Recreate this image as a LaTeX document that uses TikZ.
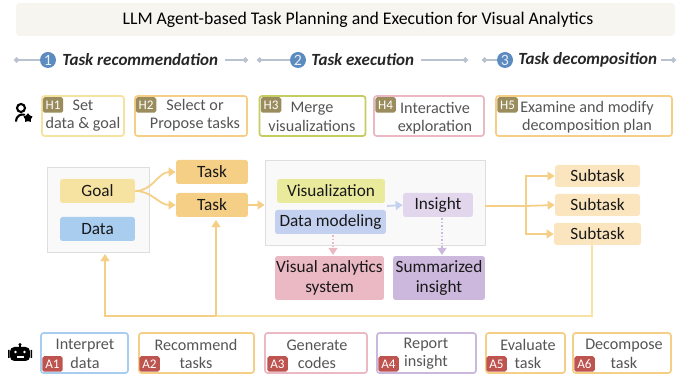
\documentclass[tikz,border=0pt]{standalone}
\usepackage{fontspec}
\setmainfont{Carlito}
\usetikzlibrary{arrows.meta,shapes.geometric}
\definecolor{titlebg}{HTML}{F6F5F0}
\definecolor{phaseline}{HTML}{B9C2CE}
\definecolor{phaseblue}{HTML}{5B8BBF}
\definecolor{goalc}{HTML}{F7E3A1}
\definecolor{taskc}{HTML}{F5CF85}
\definecolor{subtaskc}{HTML}{FAE5BF}
\definecolor{datac}{HTML}{A9CDEF}
\definecolor{visc}{HTML}{E9EA9C}
\definecolor{greenc}{HTML}{C5CC62}
\definecolor{modelc}{HTML}{C3D0F0}
\definecolor{insightc}{HTML}{E2D6EC}
\definecolor{systemc}{HTML}{EBB9C4}
\definecolor{summaryc}{HTML}{CBB8DC}
\definecolor{hbadge}{HTML}{9A8C5C}
\definecolor{abadge}{HTML}{BE5450}
\definecolor{greytext}{HTML}{555555}
\begin{document}
\begin{tikzpicture}
  [x=0.02cm,y=-0.02cm,
  titlebox/.style={shape=rectangle,rounded corners=2pt,fill=titlebg,minimum width=13.18cm,minimum height=0.66cm,font=\fontsize{10.1}{12}\selectfont},
  phase/.style={font=\fontsize{9.7}{12}\selectfont\itshape\bfseries,text=black!85,inner sep=0pt},
  phasenum/.style={shape=circle,fill=phaseblue,text=white!85!phaseblue,minimum size=0.32cm,inner sep=0pt,font=\fontsize{9}{10}\selectfont},
  phaserule/.style={draw=phaseline,thick},
  stepbox/.style={shape=rectangle,rounded corners=1.5pt,draw,line width=1pt,fill=white,minimum height=0.8cm,inner sep=0pt},
  boxtext/.style={align=center,text=greytext,inner sep=0pt,font=\fontsize{9.2}{10.4}\selectfont},
  badge/.style={shape=rectangle,rounded corners=1pt,text=white,minimum width=0.41cm,minimum height=0.31cm,inner sep=0pt,font=\fontsize{7.5}{8}\selectfont},
  panel/.style={shape=rectangle,draw=black!13,fill=black!2.5,line width=0.5pt,inner sep=0pt},
  item/.style={shape=rectangle,rounded corners=1.5pt,align=center,text=black!90,inner sep=0pt,minimum height=0.48cm,font=\fontsize{9.8}{11}\selectfont},
  arc/.style={-{Triangle[length=4pt,width=5pt]},line width=1pt,draw=taskc}]

  % title and phases
  \node (title) [titlebox] at (345.5,19.5) {\hspace*{0.5cm}LLM Agent-based Task Planning and Execution for Visual Analytics};

  \node (n1) [phasenum] at (48,60) {1};
  \node (p1) [phase,anchor=west] at (62,60) {Task recommendation};
  \node (n2) [phasenum] at (298,60) {2};
  \node (p2) [phase,anchor=west] at (311,60) {Task execution};
  \node (n3) [phasenum] at (505,60) {3};
  \node (p3) [phase,anchor=west] at (518,60) {Task decomposition};

  \coordinate (l1a) at (14,60);
  \coordinate (l1b) at (248,60);
  \coordinate (l2a) at (257,60);
  \coordinate (l2b) at (468,60);
  \coordinate (l3a) at (482,60);
  \coordinate (l3b) at (676,60);
  \draw [phaserule,{Circle[length=3pt]}-] (l1a) to (n1);
  \draw [phaserule,-{Circle[length=3pt]}] (p1.east) ++(6,0) to (l1b);
  \draw [phaserule,{Circle[length=3pt]}-] (l2a) to (n2);
  \draw [phaserule,-{Circle[length=3pt]}] (p2.east) ++(7,0) to (l2b);
  \draw [phaserule,{Circle[length=3pt]}-] (l3a) to (n3);
  \draw [phaserule,-{Circle[length=3pt]}] (p3.east) ++(4,0) to (l3b);

  % human icon
  \node (human) [shape=circle,draw=black,line width=1.2pt,minimum size=0.16cm,inner sep=0pt] at (21,108) {};
  \draw [line width=1.2pt,line cap=round] (16,121) arc (180:285:6.5);
  \node (humanstar) [shape=star,star points=5,fill=black,minimum size=0.19cm,inner sep=0pt] at (28,118) {};

  % human steps
  \node (h1) [stepbox,draw=goalc,minimum width=1.64cm] at (83,116) {};
  \node (h2) [stepbox,draw=taskc,minimum width=2.24cm] at (191,116) {};
  \node (h3) [stepbox,draw=greenc,minimum width=2.12cm] at (312.5,116) {};
  \node (h4) [stepbox,draw=systemc,minimum width=2.2cm] at (429,116) {};
  \node (h5) [stepbox,draw=taskc,minimum width=3.52cm] at (584,116) {};

  \node (h1text) [boxtext] at (83,116) {Set\\data \& goal};
  \node (h2text) [boxtext] at (195,115) {Select or\\Propose tasks};
  \node (h3text) [boxtext] at (312,117) {Merge\\visualizations};
  \node (h4text) [boxtext] at (435,118) {Interactive\\exploration};
  \node (h5text) [boxtext] at (587,117) {Examine and modify\\decomposition plan};

  \node (b1) [badge,fill=hbadge] at (53,105) {H1};
  \node (b2) [badge,fill=hbadge] at (146,105) {H2};
  \node (b3) [badge,fill=hbadge] at (271,105) {H3};
  \node (b4) [badge,fill=hbadge] at (385.5,105) {H4};
  \node (b5) [badge,fill=hbadge] at (507.5,105) {H5};

  % goal panel
  \node (goalpanel) [panel,minimum width=2.04cm,minimum height=1.7cm] at (98,209.5) {};
  \node (goal) [item,fill=goalc,minimum width=1.5cm] at (97.5,191) {Goal};
  \node (data) [item,fill=datac,minimum width=1.5cm] at (97.5,229) {Data};

  \node (taska) [item,fill=taskc,minimum width=1.44cm] at (212,172) {Task};
  \node (taskb) [item,fill=taskc,minimum width=1.44cm] at (212,205) {Task};

  % execution panel
  \node (execpanel) [panel,minimum width=4.4cm,minimum height=1.7cm] at (375,202.5) {};
  \node (vis) [item,fill=visc,minimum width=2.16cm] at (331,191) {Visualization};
  \node (model) [item,fill=modelc,minimum width=2.22cm] at (330.5,222) {Data modeling};
  \node (insight) [item,fill=insightc,minimum width=1.4cm] at (438,205) {Insight};
  \node (system) [item,fill=systemc,minimum width=2.18cm,minimum height=0.88cm] at (329.5,278) {Visual analytics\\system};
  \node (summary) [item,fill=summaryc,minimum width=1.84cm,minimum height=0.88cm] at (439,278) {Summarized\\insight};

  \node (suba) [item,fill=subtaskc,minimum width=1.7cm,minimum height=0.44cm] at (597.5,176) {Subtask};
  \node (subb) [item,fill=subtaskc,minimum width=1.7cm,minimum height=0.44cm] at (597.5,205) {Subtask};
  \node (subc) [item,fill=subtaskc,minimum width=1.74cm,minimum height=0.44cm] at (597.5,234) {Subtask};

  % connectors
  \draw [arc] (goal.east) to [out=0,in=180] (taska.west);
  \draw [arc] (goal.east) to [out=0,in=180] (taskb.west);
  \draw [arc] (taskb.east) to (execpanel.west |- taskb.east);
  \draw [arc,draw=modelc] (387,206) to (insight.west);
  \draw [arc,draw=systemc,densely dotted] (333,235) to (333,255);
  \draw [arc,draw=summaryc,densely dotted] (442,218) to (442,255);

  \coordinate (fork) at (526,206);
  \draw [line width=1pt,draw=taskc] (485,206) to (fork);
  \draw [arc] (fork) to (subb.west);
  \draw [arc] (fork) |- (suba.west);
  \draw [arc] (fork) |- (subc.west);

  \coordinate (backr) at (592,316);
  \coordinate (backm) at (216,316);
  \coordinate (backl) at (105,316);
  \draw [line width=1pt,draw=goalc] (subc.south -| backr) to (backr) to (backm);
  \draw [arc] (backm) to (216,220);
  \draw [arc] (backm) to (backl) to (105,254);

  % robot icon
  \node (robot) [shape=rectangle,rounded corners=2.5pt,fill=black,minimum width=0.4cm,minimum height=0.28cm,inner sep=0pt] at (20,354) {};
  \draw [line width=1pt] (robot.north) to (20,345);
  \fill (20,344.5) circle (1.6);
  \fill [white] (15.5,352) circle (1.4) (24.5,352) circle (1.4);
  \fill [white] (16.5,356.5) rectangle (23.5,358);
  \fill (8,350) rectangle (9.5,358) (30.5,350) rectangle (32,358);

  % agent steps
  \node (a1) [stepbox,draw=datac,minimum width=1.74cm] at (84.5,353) {};
  \node (a2) [stepbox,draw=taskc,minimum width=2.3cm] at (196.5,353) {};
  \node (a3) [stepbox,draw=systemc,minimum width=2.04cm] at (316,353) {};
  \node (a4) [stepbox,draw=summaryc,minimum width=1.98cm] at (426.5,353) {};
  \node (a5) [stepbox,draw=taskc,minimum width=1.58cm] at (525.5,353) {};
  \node (a6) [stepbox,draw=taskc,minimum width=1.96cm] at (622,353) {};

  \node (a1text) [boxtext] at (85,354) {Interpret\\data};
  \node (a2text) [boxtext] at (196,354) {Recommend\\tasks};
  \node (a3text) [boxtext] at (317,354) {Generate\\codes};
  \node (a4text) [boxtext] at (426,354) {Report\\insight};
  \node (a5text) [boxtext] at (528,354) {Evaluate\\task};
  \node (a6text) [boxtext] at (624,354) {Decompose\\task};

  \node (c1) [badge,fill=abadge] at (52.5,364) {A1};
  \node (c2) [badge,fill=abadge] at (149.5,364) {A2};
  \node (c3) [badge,fill=abadge] at (277.5,364) {A3};
  \node (c4) [badge,fill=abadge] at (388.5,364) {A4};
  \node (c5) [badge,fill=abadge] at (496.5,364) {A5};
  \node (c6) [badge,fill=abadge] at (584.5,364) {A6};

  \useasboundingbox (0,0) rectangle (686,374);
\end{tikzpicture}
\end{document}
